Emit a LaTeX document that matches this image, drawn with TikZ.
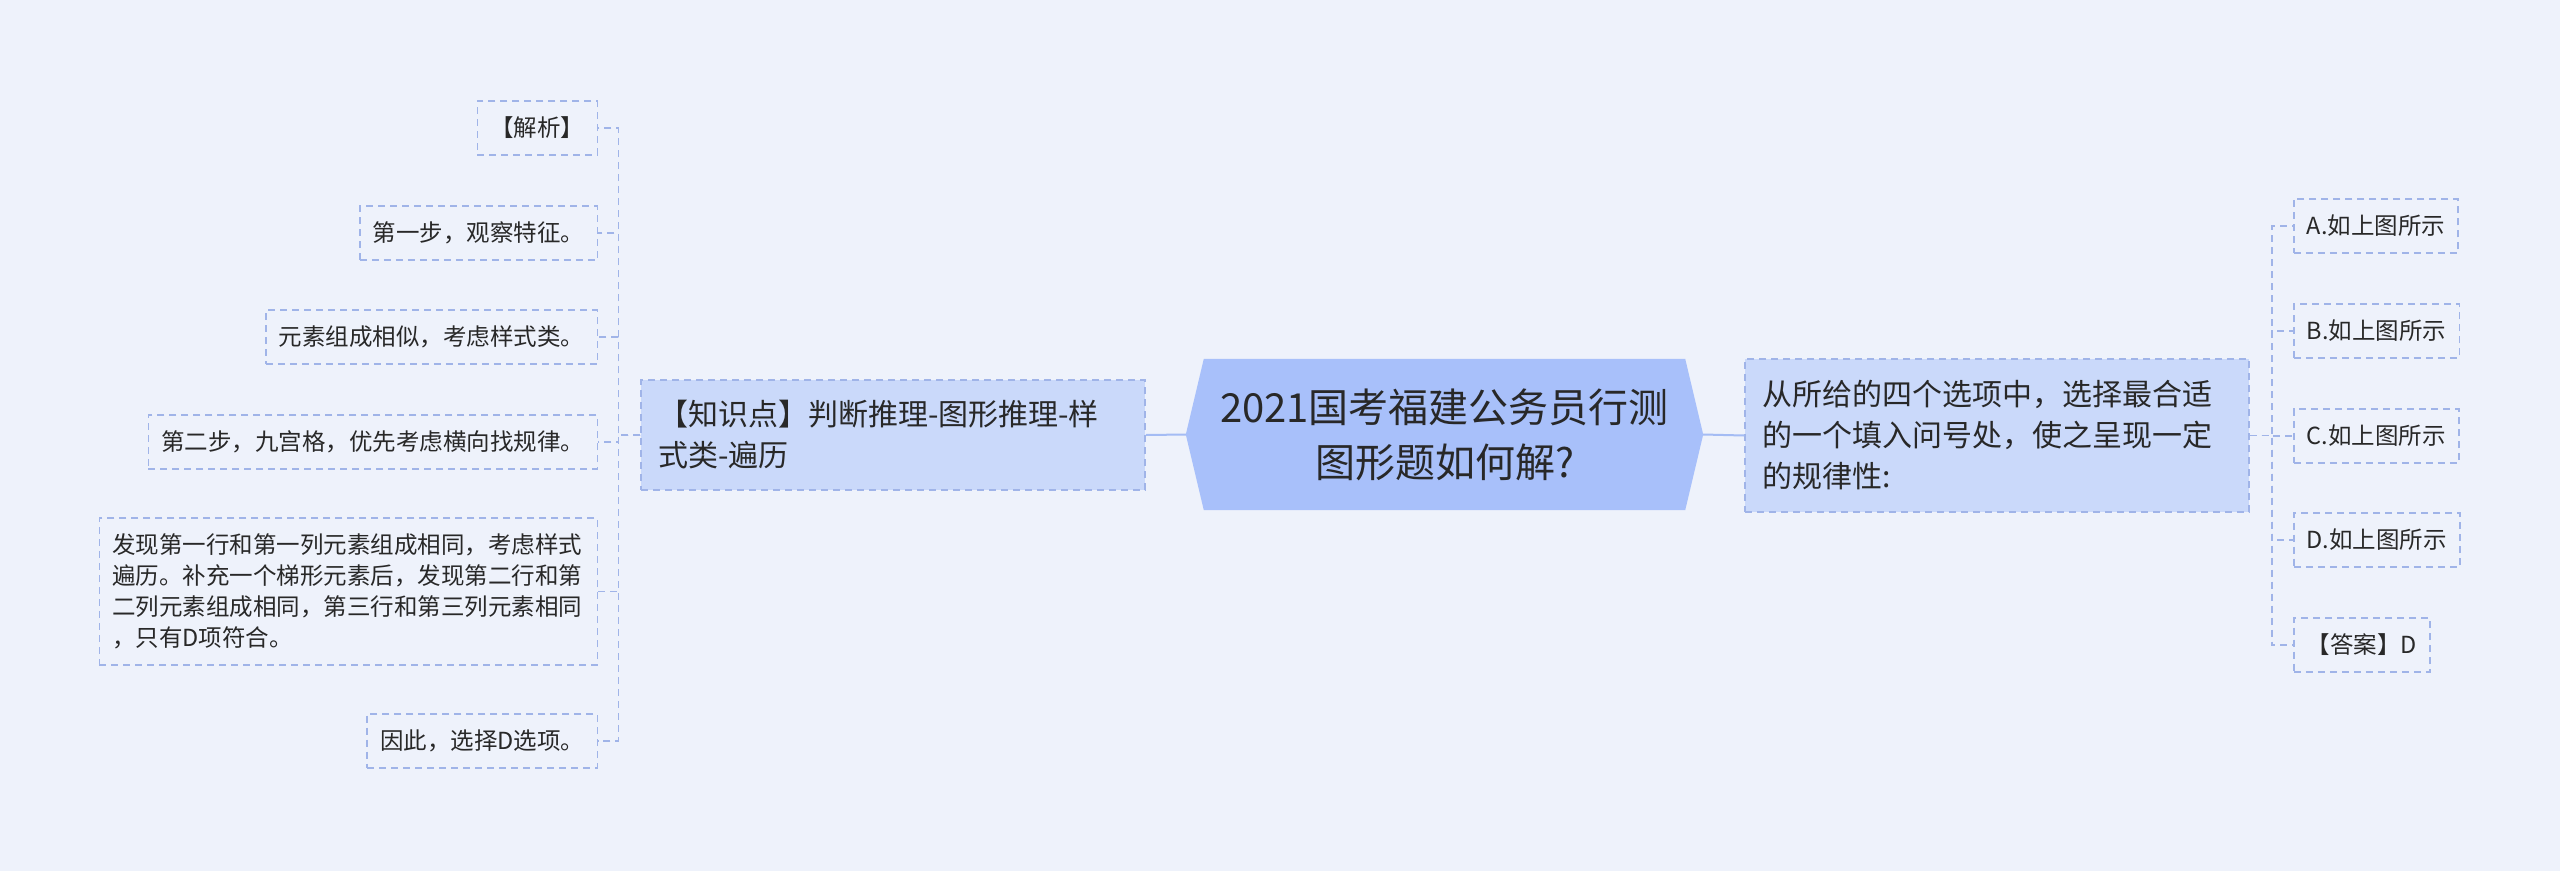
\documentclass[tikz,border=0pt]{standalone}
\usepackage{fontspec}
\newfontfamily\cjk{Noto Sans CJK SC}
\usetikzlibrary{backgrounds}
\definecolor{bgcol}{RGB}{238,242,251}
\definecolor{rootcol}{RGB}{168,192,250}
\definecolor{midcol}{RGB}{202,217,250}
\definecolor{edgecol}{RGB}{160,180,232}
\definecolor{trunkcol}{RGB}{164,188,244}
\definecolor{inkcol}{RGB}{40,40,40}

\begin{document}
\begin{tikzpicture}[x=1pt,y=-1pt,
  every node/.style={font=\cjk,text=inkcol,inner sep=0pt},
  rootbox/.style={minimum width=517pt,minimum height=151pt,align=center,font={\cjk\fontsize{40pt}{55pt}\selectfont}},
  midbox/.style={draw=edgecol,fill=midcol,line width=1.5pt,dash pattern=on 7pt off 5pt,text width=470pt,inner xsep=17pt,align=left,font={\cjk\fontsize{30pt}{41pt}\selectfont}},
  leafbox/.style={draw=edgecol,line width=1.5pt,dash pattern=on 7pt off 5pt,inner xsep=13pt,minimum height=54pt,align=left,font={\cjk\fontsize{23.5pt}{31pt}\selectfont}},
  trunk/.style={draw=trunkcol,line width=2pt},
  twig/.style={draw=edgecol,line width=1.5pt,dash pattern=on 7pt off 5pt}]
  \node[rootbox] (root) at (1444.5,434.5) {2021国考福建公务员行测\\图形题如何解?};
  \begin{scope}[on background layer]
    \fill[bgcol] (0,0) rectangle (2560,871);
    \fill[rootcol] (root.west) -- ([xshift=18pt]root.north west) -- ([xshift=-18pt]root.north east)
      -- (root.east) -- ([xshift=-18pt]root.south east) -- ([xshift=18pt]root.south west) -- cycle;
  \end{scope}
  \node[midbox,minimum height=110pt] (know) at (893,435) {【知识点】判断推理-图形推理-样\\式类-遍历};
  \node[midbox,minimum height=153pt] (ques) at (1997,435.5) {从所给的四个选项中，选择最合适\\的一个填入问号处，使之呈现一定\\的规律性:};
  \node[leafbox,anchor=east] (jiexi) at (598,128) {【解析】};
  \node[leafbox,anchor=east] (step1) at (598,233) {第一步，观察特征。};
  \node[leafbox,anchor=east] (yuansu) at (598,337) {元素组成相似，考虑样式类。};
  \node[leafbox,anchor=east] (step2) at (598,442) {第二步，九宫格，优先考虑横向找规律。};
  \node[leafbox,anchor=east,text width=472pt,minimum height=147pt] (faxian) at (598,591.5) {发现第一行和第一列元素组成相同，考虑样式\\遍历。补充一个梯形元素后，发现第二行和第\\二列元素组成相同，第三行和第三列元素相同\\，只有D项符合。};
  \node[leafbox,anchor=east] (yinci) at (598,741) {因此，选择D选项。};
  \node[leafbox,anchor=west] (optA) at (2293,226) {A.如上图所示};
  \node[leafbox,anchor=west] (optB) at (2293,331) {B.如上图所示};
  \node[leafbox,anchor=west] (optC) at (2293,436) {C.如上图所示};
  \node[leafbox,anchor=west] (optD) at (2293,540) {D.如上图所示};
  \node[leafbox,anchor=west] (daan) at (2293,645) {【答案】D};
  \coordinate (lhub) at ([xshift=-22pt]know.west);
  \coordinate (rhub) at ([xshift=22pt]ques.east);
  \draw[trunk] (root.west) -- (know.east);
  \draw[trunk] (root.east) -- (ques.west);
  \draw[twig] (know.west) -- (lhub) |- (jiexi.east);
  \draw[twig] (know.west) -- (lhub) |- (step1.east);
  \draw[twig] (know.west) -- (lhub) |- (yuansu.east);
  \draw[twig] (know.west) -- (lhub) |- (step2.east);
  \draw[twig] (know.west) -- (lhub) |- (faxian.east);
  \draw[twig] (know.west) -- (lhub) |- (yinci.east);
  \draw[twig] (ques.east) -- (rhub) |- (optA.west);
  \draw[twig] (ques.east) -- (rhub) |- (optB.west);
  \draw[twig] (ques.east) -- (rhub) |- (optC.west);
  \draw[twig] (ques.east) -- (rhub) |- (optD.west);
  \draw[twig] (ques.east) -- (rhub) |- (daan.west);
\end{tikzpicture}
\end{document}
